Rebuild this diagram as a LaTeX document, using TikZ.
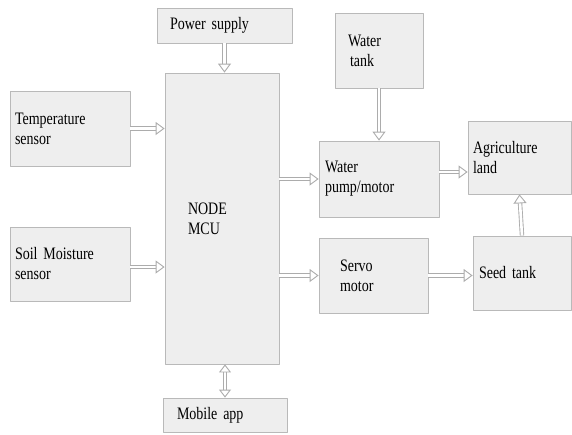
\documentclass[tikz,border=0pt]{standalone}
\usepackage{fontspec}
\setmainfont{Liberation Serif}[FakeStretch=0.8]
\usetikzlibrary{arrows.meta}
\newcommand\blkfont{\fontsize{17.5}{20}\selectfont\spaceskip=2.8pt plus 1pt\relax}
\begin{document}
\begin{tikzpicture}[x=1pt, y=-1pt, font=\blkfont, line join=round,
	blk/.style={draw=gray!55, fill=gray!13, line width=0.8pt, align=left, inner ysep=0pt},
	harrow/.style={draw=gray!65, double=white, double distance=2.6pt, line width=0.9pt,
		-{Triangle[open, length=9pt, width=13pt, fill=white]}},
	darrow/.style={harrow, {Triangle[open, length=8pt, width=12pt, fill=white]}-{Triangle[open, length=8pt, width=12pt, fill=white]}}]
	\useasboundingbox (0,0) rectangle (572,434);
	\node[blk, minimum width=135pt, minimum height=35pt, inner xsep=13pt, text width=109pt] (pow) at (224.5,25.5) {Power supply};
	\node[blk, minimum width=120pt, minimum height=75pt, inner xsep=5pt, text width=110pt] (temp) at (70,128.5) {Temperature\\sensor};
	\node[blk, minimum width=120pt, minimum height=74pt, inner xsep=5pt, text width=110pt] (soil) at (70,264) {Soil Moisture\\sensor};
	\node[blk, minimum width=114pt, minimum height=291pt, inner xsep=23pt, text width=68pt] (mcu) at (222,218.5) {NODE\\MCU};
	\node[blk, minimum width=124pt, minimum height=34pt, inner xsep=14pt, text width=96pt] (mob) at (225,415) {Mobile app};
	\node[blk, minimum width=88pt, minimum height=75pt, inner xsep=13pt, text width=62pt] (wtank) at (379,50.5) {Water\\\hspace*{2pt}tank};
	\node[blk, minimum width=120pt, minimum height=76pt, inner xsep=6pt, text width=108pt] (pump) at (379,179) {Water\\pump/motor};
	\node[blk, minimum width=103pt, minimum height=73pt, inner xsep=5pt, text width=93pt] (agri) at (519.5,157.5) {Agriculture\\land};
	\node[blk, minimum width=109pt, minimum height=75pt, inner xsep=21pt, text width=67pt] (servo) at (373.5,275.5) {Servo\\motor};
	\node[blk, minimum width=98pt, minimum height=74pt, inner xsep=6pt, text width=86pt] (seed) at (522,273) {Seed tank};
	\draw[harrow] (pow.south) -- (pow |- mcu.north);
	\draw[harrow] (temp.east) -- (temp -| mcu.west);
	\draw[harrow] ([yshift=-3pt]soil.east) -- ([yshift=-3pt]soil.east -| mcu.west);
	\draw[harrow] (mcu.east |- pump) -- (pump.west);
	\draw[harrow] (mcu.east |- servo) -- (servo.west);
	\draw[harrow] (wtank.south) -- (pump.north);
	\draw[harrow] ([yshift=7pt]pump.east) -- ([yshift=7pt]pump.east -| agri.west);
	\draw[harrow] (servo.east) -- (servo -| seed.west);
	\draw[harrow] (seed.north) -- (agri.south);
	\draw[darrow] (mob.north) -- (mob |- mcu.south);
\end{tikzpicture}
\end{document}
